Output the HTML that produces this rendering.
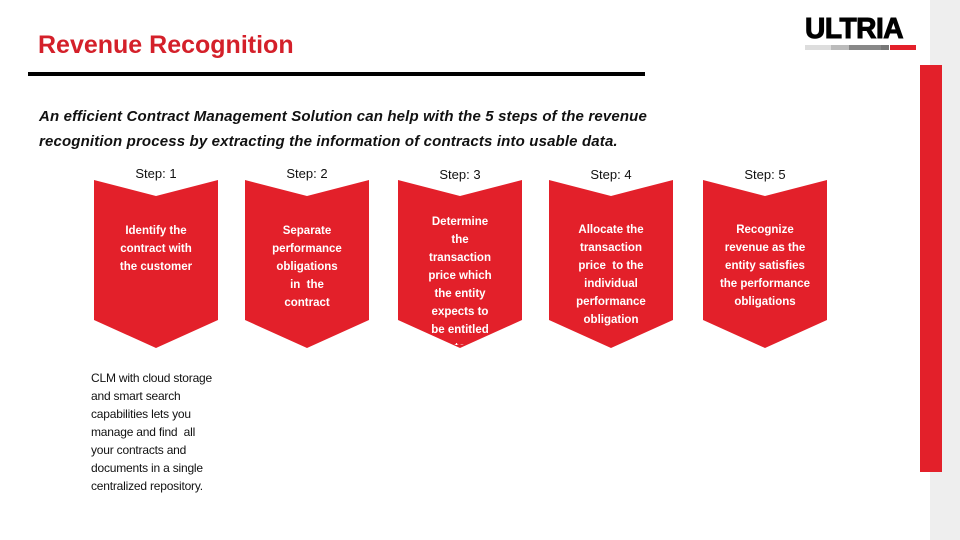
<!DOCTYPE html>
<html><head><meta charset="utf-8"><style>
body{margin:0;width:960px;height:540px;position:relative;background:#fff;font-family:"Liberation Sans",sans-serif;overflow:hidden}
.abs{position:absolute}
.step{position:absolute;width:124px;text-align:center;font-size:13px;color:#111}
.chev{position:absolute;width:124px;height:168px}
.ct{position:absolute;width:124px;text-align:center;color:#fff;font-size:11.5px;line-height:18px;font-weight:bold}
</style></head><body>
<div class="abs" style="left:930px;top:0;width:30px;height:540px;background:#eeeeee"></div>
<div class="abs" style="left:920px;top:65px;width:22px;height:407px;background:#e3202a"></div>
<div class="abs" style="left:805px;top:14px;width:112px;height:40px">
 <div style="font-weight:900;font-size:29px;letter-spacing:-0.5px;color:#000;line-height:30px;transform:scaleX(0.97);transform-origin:left;-webkit-text-stroke:1px #000">ULTRIA</div>
 <div style="position:absolute;left:0;top:31px;height:5px;width:26px;background:#ddd"></div>
 <div style="position:absolute;left:26px;top:31px;height:5px;width:18px;background:#bbb"></div>
 <div style="position:absolute;left:44px;top:31px;height:5px;width:32px;background:#888"></div>
 <div style="position:absolute;left:76px;top:31px;height:5px;width:8px;background:#777"></div>
 <div style="position:absolute;left:85px;top:31px;height:5px;width:26px;background:#e3202a"></div>
</div>
<div class="abs" style="left:38px;top:31px;font-size:25px;font-weight:bold;color:#d4202a;letter-spacing:0px">Revenue Recognition</div>
<div class="abs" style="left:28px;top:72px;width:617px;height:4px;background:#000"></div>
<div class="abs" style="left:39px;top:104px;width:700px;font-size:15px;line-height:25px;font-style:italic;font-weight:bold;color:#111;letter-spacing:0.15px">An efficient Contract Management Solution can help with the 5 steps of the revenue<br>recognition process by extracting the information of contracts into usable data.</div>
<div id="steps"></div>
<div class="abs" style="left:91px;top:369px;width:160px;font-size:12px;line-height:18px;color:#111;letter-spacing:-0.2px">CLM with cloud storage<br>and smart search<br>capabilities lets you<br>manage and find &nbsp;all<br>your contracts and<br>documents in a single<br>centralized repository.</div>
<script>
const lefts=[94,245,398,549,703];
const labels=["Step: 1","Step: 2","Step: 3","Step: 4","Step: 5"];
const texts=["Identify the<br>contract with<br>the customer","Separate<br>performance<br>obligations<br>in &nbsp;the<br>contract","Determine<br>the<br>transaction<br>price which<br>the entity<br>expects to<br>be entitled<br>to","Allocate the<br>transaction<br>price &nbsp;to the<br>individual<br>performance<br>obligation","Recognize<br>revenue as the<br>entity satisfies<br>the performance<br>obligations"];
const tops=[222,222,213,221,221];
const c=document.getElementById('steps');
lefts.forEach((x,i)=>{
 const s=document.createElement('div');s.className='step';s.style.left=x+'px';s.style.top=(i<2?166:167)+'px';s.textContent=labels[i];
 
 
 c.appendChild(s);
 const d=document.createElement('div');d.className='chev';d.style.left=x+'px';d.style.top='180px';
 d.innerHTML='<svg width="124" height="168"><polygon points="0,0 62,16 124,0 124,140 62,168 0,140" fill="#e3202a"/></svg>';
 
 
 c.appendChild(d);
 const t=document.createElement('div');t.className='ct';t.style.left=x+'px';t.style.top=tops[i]+'px';t.innerHTML=texts[i];
 if(i==2){t.style.height='132px';t.style.overflow='hidden';}
 
 
 c.appendChild(t);
});
</script>
</body></html>
